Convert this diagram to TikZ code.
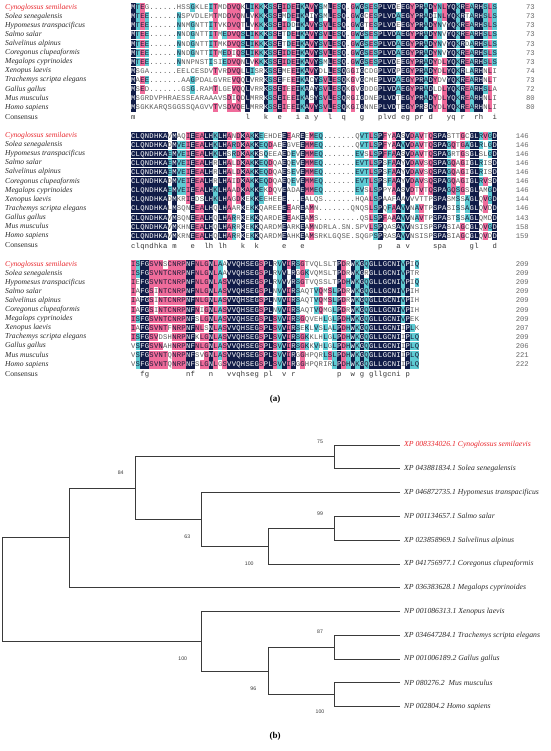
\documentclass[tikz,border=0pt]{standalone}
\usepackage{fontspec}
\setmainfont{Liberation Serif}
\setmonofont{Liberation Mono}
\newfontfamily\bootfont{Liberation Sans}
\usetikzlibrary{positioning}

\definecolor{alnavy}{HTML}{111C48}
\definecolor{alpink}{HTML}{F06C9B}
\definecolor{alcyan}{HTML}{5ECBD3}
\definecolor{spred}{HTML}{E8262C}
\definecolor{resgray}{HTML}{5A5A5A}
\definecolor{resdark}{HTML}{1C1C38}
\definecolor{treegray}{HTML}{3A3A3A}
\definecolor{leafgray}{HTML}{2A2A2A}

% alignment helpers
\newcount\alcol
\def\alx{131}
\def\alw{4.575}
\def\setblock#1#2{\alcol=0 \setcolA#1\relax\alcol=0 \setkeyA#2\relax}
\def\setcolA#1{\ifx#1\relax\else\advance\alcol by 1 \expandafter\def\csname alc\the\alcol\endcsname{#1}\expandafter\setcolA\fi}
\def\setkeyA#1{\ifx#1\relax\else\advance\alcol by 1 \expandafter\def\csname alk\the\alcol\endcsname{#1}\expandafter\setkeyA\fi}
\def\alrow#1#2{\pgfmathsetmacro\aly{\blocky+#1*9.1}\alcol=0 \alrowA#2\relax}
\def\alrowA#1{\ifx#1\relax\else\advance\alcol by 1 \alcell{#1}\expandafter\alrowA\fi}
\def\alcell#1{%
  \edef\cellc{\csname alc\the\alcol\endcsname}%
  \expandafter\let\expandafter\cellk\csname alk\the\alcol\endcsname
  \def\cellr{#1}\def\cellf{w}%
  \ifx\cellr\cellk\let\cellf\cellc\fi
  \pgfmathsetmacro\cx{\alx+(\the\alcol-0.5)*\alw}%
  \if k\cellf
    \fill[alnavy] ({\cx-2.33},{\aly-4.2}) rectangle ({\cx+2.33},{\aly+4.2});
    \node[restxt,text=white] at (\cx,\aly) {#1};
  \else\if p\cellf
    \fill[alpink] ({\cx-2.33},{\aly-4.2}) rectangle ({\cx+2.33},{\aly+4.2});
    \node[restxt] at (\cx,\aly) {#1};
  \else\if c\cellf
    \fill[alcyan] ({\cx-2.33},{\aly-4.2}) rectangle ({\cx+2.33},{\aly+4.2});
    \node[restxt] at (\cx,\aly) {#1};
  \else
    \node[restxt,text=resgray] at (\cx,\aly) {#1};
  \fi\fi\fi}

\def\spnames{Solea senegalensis, Hypomesus transpacificus, Salmo salar,
  Salvelinus alpinus, Coregonus clupeaformis, Megalops cyprinoides,
  Xenopus laevis, Trachemys scripta elegans, Gallus gallus, Mus musculus,
  Homo sapiens}

\begin{document}
\begin{tikzpicture}[x=1pt, y=-1pt,
    restxt/.style={font=\ttfamily\fontsize{7.2}{8}\selectfont, text=resdark,
      inner sep=0pt, text height=4.4pt, text depth=0pt},
    contxt/.style={restxt, text=black!80},
    numtxt/.style={font=\ttfamily\fontsize{7.2}{8}\selectfont, text=black!60,
      anchor=east, inner sep=0pt, text height=4.4pt, text depth=0pt},
    spname/.style={font=\itshape\fontsize{7.6}{8}\selectfont, text=leafgray,
      anchor=west, inner sep=0pt, text height=5pt, text depth=1.6pt},
    branch/.style={draw=treegray, line width=0.9pt},
    leaf/.style={font=\itshape\fontsize{7.7}{9}\selectfont, text=leafgray,
      anchor=west, inner xsep=4pt, inner ysep=0pt},
    boot/.style={font=\bootfont\fontsize{5.2}{6}\selectfont, text=treegray,
      inner sep=0pt},
    panel/.style={font=\bfseries\fontsize{9}{10}\selectfont, inner sep=0pt}]
  \useasboundingbox (0,0) rectangle (550,751);

  % species names of the three alignment blocks
  \foreach \by [count=\b] in {7.5,135.9,264.3}{
    \node[spname, text=spred] (sp\b-0) at (5,\by) {Cynoglossus semilaevis};
    \foreach \n [count=\i] in \spnames
      \node[spname] (sp\b-\i) at (5,{\by+\i*9.1}) {\n};
    \node[spname, font=\fontsize{7.6}{8}\selectfont] (cons\b) at (5,{\by+110.1}) {Consensus};
  }

  % block 1
  \def\blocky{7.5}
  \setblock{kcpcwwwwww cwwcwwwcpw cpppckcpck cpkpcpkckp kcpkpckwpc kcpckkkkck kpkkckpcpk kckpckkcpc}
    {MTEE ...... NNDGNTTITMEDVQSL IKKKSS EIDEIKAVYSVLESQ.GWGSES PLVDAEGYPRADYNLYQKREARHSLS}
  \alrow{0}{MTEG ...... HSSGKLEITMDDVQKL IKKKSS EIDEIKAVYSMLESQ.GWGSES PLVDEEGYPRADYNLYQKREARHSLS}
  \alrow{1}{MTEE ...... NSPVDLEMTMDDVQNL VKKKSS EMDEIKAIYSMLESQ.GWGCES PLVDAEGYPRADINLYQKRTARHSLS}
  \alrow{2}{MTEE ...... NNMGNTTITVKDVQTL VKKKSS EIDDIKAVYSVLESQ.GWGTES PLVDEEGYPRADYNVYQKREARHSLS}
  \alrow{3}{MTEE ...... NNDGNTTITMEDVQSL IKKKSS ETDEIKAVYSVLESQ.GWGSES PLVDAEGYPRADYNVYQKREARHSLS}
  \alrow{4}{MTEE ...... NNDGNTTITMKDVQSL IKKKSS ETDEIKAVYSVLESQ.GWGSES PLVDAEGYPRADYNVYQKRDARHSLS}
  \alrow{5}{MTEE ...... NNDGNTTITMEDIQSL IKKKSS EIDEIKAVYSVLESQ.GWGSES PLVDAEGYPRADYNVYQKREARHSLS}
  \alrow{6}{MTEE ...... NNNPNSTISIEDVQNL VKKKSS EIDEIKAVYSMLESQ.GWGSES PLVDEEGYPRADYDLYQKREARHSLS}
  \alrow{7}{MSGA ...... EELCESDVTVRDVQLL ISRKSS EMEEIKAVYDLLESQGGIGCDG PLVDPEGYPRADYDLYQKRLARHNLI}
  \alrow{8}{MAEE ...... .AAGPDALGVREVQQL VRRKSS EFEEIKACYSVLESQKGVGCME PLVDAEGYPRADYDVYQKREARHNLT}
  \alrow{9}{MSED ...... .GSG.RAMTLGEVQQL VRRKSS EIEEIKAAYSVLESQKGVGDDG PLVDAEGYPRADLDLYQKREARHSLA}
  \alrow{10}{MSGR DVPHRA ESSEARAAAVSDIQDL MRRKSS EIEEIKASYSVLESQRGIGDNE PLVDTEGYPRADYDLYQKREARHNLI}
  \alrow{11}{MSGK KARQSG GSSQAGVVTVSDVQEL MRRKSS EIEEIKAVYSVLESQKGIGNNE PLVDTEGYPRSDYDLYQKREARHNLI}
  \foreach \ci/\ct in {1/m,26/l,30/k,33/e,37/i,39/a,41/y,44/l,47/q,51/g,55/p,56/l,57/v,58/d,
      60/e,61/g,63/p,64/r,66/d,70/y,71/q,73/r,76/r,77/h,80/i}
    \node[contxt] at ({\alx+(\ci-0.5)*\alw},117.6) {\ct};
  \foreach \v [count=\i from 0] in {73,73,73,73,73,73,73,74,73,72,80,80}
    \node[numtxt] (numa\i) at (535,{7.5+\i*9.1}) {\v};

  % block 2
  \def\blocky{135.9}
  \setblock{kkkkkkkkck ccpkppkkck kpcpkpckcc pwwkpcwkpp ccwwwwwwwc ccpckpcpkc kpcpwpkkkc pcpckkcpck}
    {CLQNDHKAEM VEIEEALHKL HARDKAKKEQ DEEEEEVEM MEQ.......EVTLS PFFAAVVDAVTQSPAGQSGAGLRVGD}
  \alrow{0}{CLQNDHKAVM AQIEEALHKL HANDKAKKEE HDEEEAREE MEQ.......QVTLS PFYAASVDAVTQSPASTTGCGLRVGD}
  \alrow{1}{CLQNDHKADM VEIEEALHKL HARDKAKKEQ DAEEGVEEM MEQ.......QVTLS PFYAAVVDAVTQSPAGQTGAGLRLGD}
  \alrow{2}{CLQNDHKAEM VEIEEALHKL HSRDKAKKSQ EEAEDEVEM MEQ.......EVSLS PFFAASVDAVTQSPAGRTGSGLSLGD}
  \alrow{3}{CLQNDHKAEM VEIEEALHRL HALDKAKKEQ DQAEQEVEM MEQ.......EVTLS PSFAAYVDAVSQSPAGQAGIGLRISD}
  \alrow{4}{CLQNDHKAEM VEIEEALHRL HALDKAKKEQ DQAESEVEM MEQ.......EVTLS PSFAAYVDAVSQSPAGQAGIGLRISD}
  \alrow{5}{CLQNDHKADM VEIEEALHRL HAIDKAKKEQ DQAEQEVEM MEQ.......EVTLS PSFAAYVDAVSQSPAGQAGIGLRVSD}
  \alrow{6}{CLQNDHKAEM VEIEEALHKL HAADKAKKEK DQVEADAEM MEQ.......EVSLS PPYAASVDTVTQSPAGQSGSGLAMGD}
  \alrow{7}{CLQNDHKADM KRIEDSLHKL HAGDKEKKEE HEEE...EA LQS.......HQALS PAAFAAVVVTTPSPASMSSAGLQVGD}
  \alrow{8}{CLQNDHKALM SQNEEALHQL HAARKEKKQA REEEEAREA MN.......QNQSLS PQFAAVVNAVTPSPASISSAGLQVDD}
  \alrow{9}{CLQNDHKAVM SQNEEALHQL HARRKEKKQA RDEEEAKEA MS.........QSLS PFAAAVVNAVTPSPASTSSAGLQMDD}
  \alrow{10}{CLQNDHKAVM KHNEEALHQL HARRKEKKQA RDMEARKEA MNDRLA.SN.SPVLS PQASAVVNSISPSPASIAGCGLQVGD}
  \alrow{11}{CLQNDHKAVM KRNEEALHQL HARRKEKKQA RDMEAHKEA MSRKLGQSE.SQGPS PRASAVVNSISPSPASIAGCGLQVDD}
  \foreach \ci/\ct in {1/c,2/l,3/q,4/n,5/d,6/h,7/k,8/a,10/m,14/e,17/l,18/h,20/l,21/h,25/k,28/k,
      34/e,38/e,55/p,59/a,61/v,67/s,68/p,69/a,75/g,76/l,80/d}
    \node[contxt] at ({\alx+(\ci-0.5)*\alw},246) {\ct};
  \foreach \v [count=\i from 0] in {146,146,146,146,146,146,146,144,146,143,158,159}
    \node[numtxt] (numb\i) at (529,{135.9+\i*9.1}) {\v};

  % block 3
  \def\blocky{264.3}
  \setblock{pckkpppppp ppkkpppkpc pkkkkkkkpk kpckpkcpcw cpcpckpckc kckkkkkkkc kcc}
    {ISFGSVNTCN RPNFNLGNLA SVVQHSEGSP LSVVIRSGKV VQLSLPDHWK GQGLLGCNIV PLQ}
  \alrow{0}{ISFGSVNSCN RPNFNLGNLA AVVQHSEGSP LRVVIRSGTV QLSLTPDRWK GQGLLGCNIV PIQ}
  \alrow{1}{ISFGSVNTCN RPNFNLGNLA AVVQHSEGSP LRVVLRGGKV QMSLTPDRWK GRGLLGCNIV PTR}
  \alrow{2}{IEFGSVNTCN RPNFNLGNLA SVVQHSEGSP LRVVVRSGTV QSSLTPDHWK GQGLLGCNIV PIQ}
  \alrow{3}{IAFGSINTCN RPNFNLGNLA SVVQHSEGSP LNVVIRSAQT VQMSLPDRWK GQGLLGCNIV PIH}
  \alrow{4}{IAFGSINTCN RPNFNLGNLA SVVQHSEGSP LNVVIRSAQT VQMSLPDRWK GQGLLGCNIV PIH}
  \alrow{5}{IAFGSINTCN RPNFNIGNLA SVVQHSEGSP LNVVIRSAQT VQMGLPDRWK GQGLLGCNIV PIH}
  \alrow{6}{ISFGSVNTCN RPNFSLGNLA SVVQHSEGSP LSVVIRSGQV EHLGLPDHWK GQGLLGCNIV PEK}
  \alrow{7}{IAFGSVNTFN RPNFNLSNLA SVVQHSEGSP LSVVIRSEKL VSLALPDHWK GQGLLGCNII PLK}
  \alrow{8}{ISFGSVDSHN RPNFKLGNLA SVVQHSEGSP LSVVIRSGKK LHLGLPDHWK GQGLLGCNII PLQ}
  \alrow{9}{VSFGSVNAHN RPNFNLGNLA SVVQHSEGSP LSVVIRSGKK VHLGLPDHWK GQGLLGCNII PLQ}
  \alrow{10}{VSFGSVNTQN RPNFSVGNLA SVVQHSEGSP LSVVIRGGHP QRLSLPDHWK GQGLLGCNII PLQ}
  \alrow{11}{VSFGSVNTQN RPNFSLGNLG SVVQHSEGSP LSVVIRGGHP QRIRLPDHWK GQGLLGCNII PLQ}
  \foreach \ci/\ct in {3/f,4/g,13/n,14/f,18/n,22/v,23/v,24/q,25/h,26/s,27/e,28/g,30/p,31/l,
      34/v,36/r,46/p,49/w,51/g,53/g,54/l,55/l,56/g,57/c,58/n,59/i,61/p}
    \node[contxt] at ({\alx+(\ci-0.5)*\alw},374.4) {\ct};
  \foreach \v [count=\i from 0] in {209,209,209,209,209,209,209,207,209,206,221,222}
    \node[numtxt] (numc\i) at (529,{264.3+\i*9.1}) {\v};

  \node[panel] (pa) at (275,399) {(a)};

  % phylogenetic tree
  \node[leaf, text=spred] (leaf0) at (400,445) {XP 008334026.1 Cynoglossus semilaevis};
  \foreach \lab [count=\i] in {XP 043881834.1 Solea senegalensis,
      XP 046872735.1 Hypomesus transpacificus, NP 001134657.1 Salmo salar,
      XP 023858969.1 Salvelinus alpinus, XP 041756977.1 Coregonus clupeaformis,
      XP 036383628.1 Megalops cyprinoides, NP 001086313.1 Xenopus laevis,
      XP 034647284.1 Trachemys scripta elegans, NP 001006189.2 Gallus gallus,
      NP 080276.2\ \ Mus musculus, NP 002804.2 Homo sapiens}
    \node[leaf] (leaf\i) at (400,{445+\i*23.79}) {\lab};

  \coordinate (nCS) at (334.7,456.9);
  \coordinate (nSS) at (334.7,528.3);
  \coordinate (nG) at (334.7,647.2);
  \coordinate (nH) at (334.7,694.8);
  \coordinate (nD) at (268.3,546.2);
  \coordinate (nF) at (268.3,671);
  \coordinate (nC) at (201.7,519.4);
  \coordinate (nE) at (201.7,641.3);
  \coordinate (nB) at (135.3,488.1);
  \coordinate (nA) at (69.3,537.9);
  \coordinate (nRoot) at (2.7,589.6);

  \draw[branch] (nCS) |- (leaf0.west) (nCS) |- (leaf1.west);
  \draw[branch] (nSS) |- (leaf3.west) (nSS) |- (leaf4.west);
  \draw[branch] (nD) |- (nSS) (nD) |- (leaf5.west);
  \draw[branch] (nC) |- (leaf2.west) (nC) |- (nD);
  \draw[branch] (nB) |- (nCS) (nB) |- (nC);
  \draw[branch] (nA) |- (nB) (nA) |- (leaf6.west);
  \draw[branch] (nG) |- (leaf8.west) (nG) |- (leaf9.west);
  \draw[branch] (nH) |- (leaf10.west) (nH) |- (leaf11.west);
  \draw[branch] (nF) |- (nG) (nF) |- (nH);
  \draw[branch] (nE) |- (leaf7.west) (nE) |- (nF);
  \draw[branch] (nRoot) |- (nA) (nRoot) |- (nE);

  % bootstrap values
  \node[boot] (bs75) at (320,441.7) {75};
  \node[boot] (bs84) at (120.7,472.3) {84};
  \node[boot] (bs99) at (320,513.3) {99};
  \node[boot] (bs63) at (187.3,536.7) {63};
  \node[boot] (bsD) at (249.3,563.7) {100};
  \node[boot] (bsE) at (182.7,658.3) {100};
  \node[boot] (bs87) at (320,631.7) {87};
  \node[boot] (bs96) at (253.3,688.3) {96};
  \node[boot] (bsH) at (320,711.7) {100};

  \node[panel] (pb) at (275,736) {(b)};
\end{tikzpicture}
\end{document}
